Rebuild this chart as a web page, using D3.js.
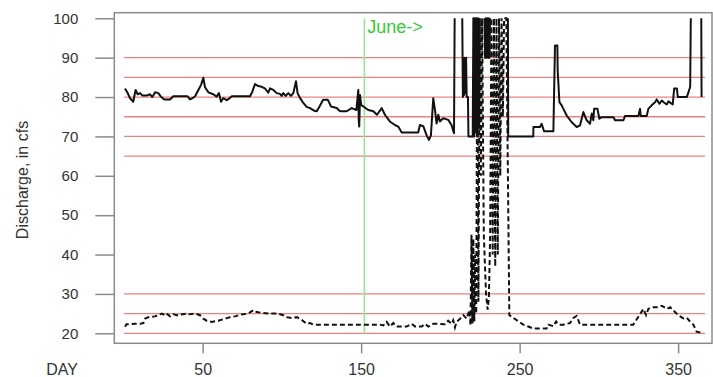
<!DOCTYPE html>
<html><head><meta charset="utf-8">
<script src="https://cdn.jsdelivr.net/npm/d3@7"></script>
<style>body{margin:0;background:#fff;}svg{display:block;font-family:"Liberation Sans",Arial,sans-serif;}</style>
</head><body>
<svg id="c" width="713" height="377"></svg>
<script>
// ---- data ----
const maxDays = [1,2.7,4.2,6.2,7.7,9,10.5,12,14.8,16.8,18.3,20,22,23.7,25.8,29.4,31.5,40.5,42,44,45.2,47.3,49,50.4,51.5,53.6,56.7,58.8,60.3,61.6,63,65.2,67.3,68.4,79.9,81.3,83,85.1,87.2,89.3,91.4,92.5,94.6,96.7,98.8,99.8,100.9,102.4,104,105.7,107.2,108.9,109.9,111.4,113.5,115.6,117.8,120,122,124,126,129,131,134.6,136.7,140.9,144,147,148.2,148.5,148.8,149.3,150,151.4,154.5,157.7,160,163,165,168.1,171.3,173.4,175.6,186,187.1,189.2,191.4,192.8,194,195.5,196.6,197.6,198.7,199.7,201.8,205,207,208.6,209,211,213.8,214.2,214.6,215,215.4,215.8,216.2,216.6,217.4,217.7,220.4,220.8,221.3,221.8,222.3,222.8,223.3,223.8,224.3,224.8,226,227.8,228.2,228.7,229.1,229.6,230.1,230.6,231,231.3,237,242.6,242.8,258.6,258.7,262.8,263.9,265.4,271.3,272.3,273.8,274,275.1,276.5,279.7,282.9,286,288.1,290.2,292.3,294.4,295.5,296.5,297,299.1,300.3,301.8,309.2,310.2,315.5,316.5,324.9,326,326.4,330.2,331.2,333.3,335.4,336.5,338.2,339.7,341.1,342.8,343.9,346.6,347.5,349.2,349.8,355.5,356.6,357.6,358,361,364.6,364.8];
const maxFlow = [82.2,81,79.7,78.8,81.8,80.7,81,80.4,80.4,80.7,80,81.2,81,80.1,79.4,79.4,80.2,80.2,79.4,79.8,80.2,81.8,83.1,84.9,82.5,81.2,80.7,80.1,81,78.8,79.7,79.2,79.8,80.2,80.2,81.3,83.3,82.8,82.6,82.2,81.1,82.2,81.8,81,80.8,80.3,81,80.3,81,80.3,81,84,81,79.8,78.5,77.5,77.2,76.6,76.4,77.8,79.3,79.3,77.6,77.2,76.4,76.4,77.2,76.7,81.8,74,72.5,80.5,78,77.6,76.7,76.4,75.5,77.2,75.5,73.8,72.9,72.5,71,71,72.9,72.6,70.2,69.1,70.2,79.7,76.7,73.3,75.5,73.8,74.6,74.2,72.9,70.8,100,null,100,80,90,80.5,90,81,90,80,80,70,70,100,70,100,71,100,70,100,72,100,null,100,90,100,90,100,90,100,90,100,null,100,70,70,72.4,72.4,73.2,71.3,71.3,93.1,93.1,86.8,78.7,77.9,75.3,73.6,72.4,72.8,76.2,74.1,73.2,75.8,74.1,77,77,74.5,74.9,74.9,74.1,74.1,75.2,75.2,77,75.2,75.2,77,77.9,78.7,79.4,78.3,79.1,78.6,78.1,78.9,78.1,82.2,82.2,80,80,81.3,82.6,100,null,100,80];
const minDays = [1,2,7.3,10.5,12.6,13.6,15.7,19.9,24.1,26.2,27.3,29.4,31.5,34.6,36.7,39.9,41,45.2,48.3,50.4,52.5,55.7,59.9,64.1,67.3,70.4,74.6,78.8,82,84.1,87.2,91.4,97.7,100.9,103,106.2,109.3,112.5,115.6,117.7,119.8,159.8,162,164,166.1,168.2,170.3,172.4,178.7,181.9,184,188.2,190.3,192.4,195.5,199.7,202.8,204.9,207.1,208.1,209.2,210.2,212.4,214.5,216.6,218.3,219,219.6,220.2,220.8,221.4,222,222.6,223.3,224,224.8,225.5,226.3,227.4,228.8,229.8,230.6,231.4,232.2,233,233.8,234.6,235.4,236.2,237,237.8,238.6,239.4,240.2,241.6,243.5,245,249.4,252.3,255,258.6,267,268.1,271.3,273,274.5,277.6,281.8,283.9,286,288.1,292.3,321.7,323.8,327,328,329.8,331.2,333.3,336.5,339.7,342.8,345,348,350.1,353.3,355.4,357.5,359.6,361.7,365.9];
const minFlow = [21.7,22.3,22.4,22.4,22.6,23.7,24.1,24.3,25,24.6,25,24.3,24.8,24.5,24.8,25,24.8,25,24.6,23.7,23.2,22.9,23.2,23.7,24.1,24.3,24.8,25,25.9,25.4,25.2,25,25,24.6,24.1,23.9,24.1,23.4,22.4,22.6,22.2,22.2,22.2,22,22.9,21.7,22.6,21.7,21.7,22.4,21.7,21.7,22.4,21.7,22.4,22.4,22.3,23.2,22.4,23.3,21.5,22.9,23.7,24.6,23.7,25.9,22,45,22.5,44,23,40,25,100,28,100,60,100,45,30,26,29,45,100,40,100,37,100,40,100,60,100,75,100,100,24.6,24.2,23,22.2,21.8,21.2,21.2,22.2,21.8,23,22.2,22.2,22.6,23.9,24.4,22.2,22.2,22.2,23.5,25.5,26.2,24.6,26.2,26.6,26.6,27,26.2,26.6,25.4,24.6,23.8,24,23,22.2,20.4,20];
const refLevels = [90,85,80,75,70,65,30,25,20];
const yTicks = [20,30,40,50,60,70,80,90,100];
const xTicks = [50,150,250,350];
const juneDay = 152;
const juneLabel = "June->";
const yTitle = "Discharge, in cfs";
const xTitle = "DAY";

// ---- chart ----
const svg = d3.select("#c");
const box = {l:114.3, t:12.7, r:712, b:343.3};
const x = d3.scaleLinear().domain([0,365]).range([123.4,701.9]);
const y = d3.scaleLinear().domain([20,100]).range([333.3,18.3]);

svg.append("clipPath").attr("id","clip").append("rect")
  .attr("x",box.l).attr("y",box.t).attr("width",box.r-box.l).attr("height",box.b-box.t);

const g = svg.append("g").attr("clip-path","url(#clip)");

g.selectAll("line.ref").data(refLevels).join("line").attr("class","ref")
  .attr("x1",x(0.5)).attr("x2",x(367)).attr("y1",d=>y(d)).attr("y2",d=>y(d))
  .attr("stroke","#ef8181").attr("stroke-width",1.3);

g.append("line").attr("x1",x(juneDay)).attr("x2",x(juneDay)).attr("y1",y(100)).attr("y2",y(20))
  .attr("stroke","#90ea90").attr("stroke-width",1.5);

const line = d3.line().defined(d=>d[1]!==null).x(d=>x(d[0])).y(d=>y(d[1]));
const maxData = maxDays.map((d,i)=>[d,maxFlow[i]]);
const minData = minDays.map((d,i)=>[d,minFlow[i]]);

g.append("path").datum(maxData).attr("d",line).attr("fill","none")
  .attr("stroke","#111").attr("stroke-width",2).attr("stroke-linejoin","round");
g.append("path").datum(minData).attr("d",line).attr("fill","none")
  .attr("stroke","#111").attr("stroke-width",2).attr("stroke-dasharray","5,3");

svg.append("text").attr("x",x(juneDay)+3).attr("y",33).attr("fill","#33cc33")
  .attr("font-size",18).text(juneLabel);

svg.append("rect").attr("x",box.l).attr("y",box.t).attr("width",box.r-box.l).attr("height",box.b-box.t)
  .attr("fill","none").attr("stroke","#8a8a8a").attr("stroke-width",1.5);

const ya = svg.append("g").attr("transform",`translate(${box.l},0)`)
  .call(d3.axisLeft(y).tickValues(yTicks).tickSize(19).tickPadding(17).tickFormat(d3.format("d")));
ya.select(".domain").remove();
ya.selectAll(".tick line").attr("stroke","#8a8a8a").attr("stroke-width",1.5);
ya.selectAll(".tick text").attr("font-size",15).attr("fill","#333").attr("font-family","Liberation Sans, Arial, sans-serif");

const xa = svg.append("g").attr("transform",`translate(0,${box.b})`)
  .call(d3.axisBottom(x).tickValues(xTicks).tickSize(10).tickPadding(10).tickFormat(d3.format("d")));
xa.select(".domain").remove();
xa.selectAll(".tick line").attr("stroke","#8a8a8a").attr("stroke-width",1.5);
xa.selectAll(".tick text").attr("font-size",16).attr("fill","#333").attr("font-family","Liberation Sans, Arial, sans-serif");

svg.append("text").attr("x",78).attr("y",375).attr("text-anchor","end").attr("font-size",16)
  .attr("fill","#333").text(xTitle);

svg.append("text").attr("transform","translate(28,180) rotate(-90)").attr("text-anchor","middle")
  .attr("font-size",16).attr("fill","#333").text(yTitle);
</script>
</body></html>
